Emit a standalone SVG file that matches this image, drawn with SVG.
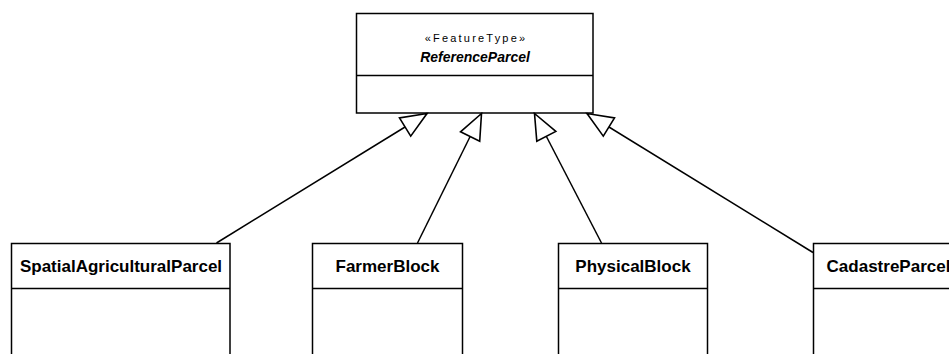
<svg xmlns="http://www.w3.org/2000/svg" width="949" height="354" viewBox="0 0 949 354">
<style>
.box{fill:#fff;stroke:#000;stroke-width:1.5}
.ln{stroke:#000;stroke-width:1.5;fill:none}
.t{font-family:"Liberation Sans",Arial,sans-serif;fill:#000;text-anchor:middle}
.nm{font-size:17px;font-weight:bold}
.tn{font-size:14px;font-weight:bold;font-style:italic}
.st{font-size:11px;letter-spacing:2.2px}
.edge{stroke:#000;stroke-width:1.5;fill:none;marker-end:url(#gen)}
</style>
<defs>
<marker id="gen" markerUnits="userSpaceOnUse" markerWidth="30" markerHeight="30" viewBox="-26 -12 28 24" refX="0" refY="0" orient="auto">
<path d="M0,0 L-24,-10 L-24,10 Z" fill="#fff" stroke="#000" stroke-width="1.5"/>
</marker>
</defs>
<rect width="949" height="354" fill="#fff"/>
<g id="ReferenceParcel">
<rect class="box" x="356.5" y="13.5" width="236.5" height="99.5"/>
<line class="ln" x1="356.5" y1="75.5" x2="593" y2="75.5"/>
<text class="t st" x="476" y="42">«FeatureType»</text>
<text class="t tn" x="475" y="62">ReferenceParcel</text>
</g>
<g id="SpatialAgriculturalParcel">
<rect class="box" x="11.5" y="243.5" width="218.5" height="120"/>
<line class="ln" x1="11.5" y1="288.5" x2="230" y2="288.5"/>
<text class="t nm" x="121" y="272">SpatialAgriculturalParcel</text>
</g>
<g id="FarmerBlock">
<rect class="box" x="312.5" y="243.5" width="150" height="120"/>
<line class="ln" x1="312.5" y1="288.5" x2="462.5" y2="288.5"/>
<text class="t nm" x="387.5" y="272">FarmerBlock</text>
</g>
<g id="PhysicalBlock">
<rect class="box" x="558.5" y="243.5" width="149" height="120"/>
<line class="ln" x1="558.5" y1="288.5" x2="707.5" y2="288.5"/>
<text class="t nm" x="633" y="272">PhysicalBlock</text>
</g>
<g id="CadastreParcel">
<rect class="box" x="813.5" y="243.5" width="150" height="120"/>
<line class="ln" x1="813.5" y1="288.5" x2="963.5" y2="288.5"/>
<text class="t nm" x="888.5" y="272">CadastreParcel</text>
</g>
<g id="connectors">
<line class="edge" x1="216.5" y1="243" x2="427" y2="113.5"/>
<line class="edge" x1="417.5" y1="243" x2="481.5" y2="113.5"/>
<line class="edge" x1="601.5" y1="243" x2="534.5" y2="113.5"/>
<line class="edge" x1="813" y1="252.5" x2="587" y2="113.5"/>
</g>
</svg>
